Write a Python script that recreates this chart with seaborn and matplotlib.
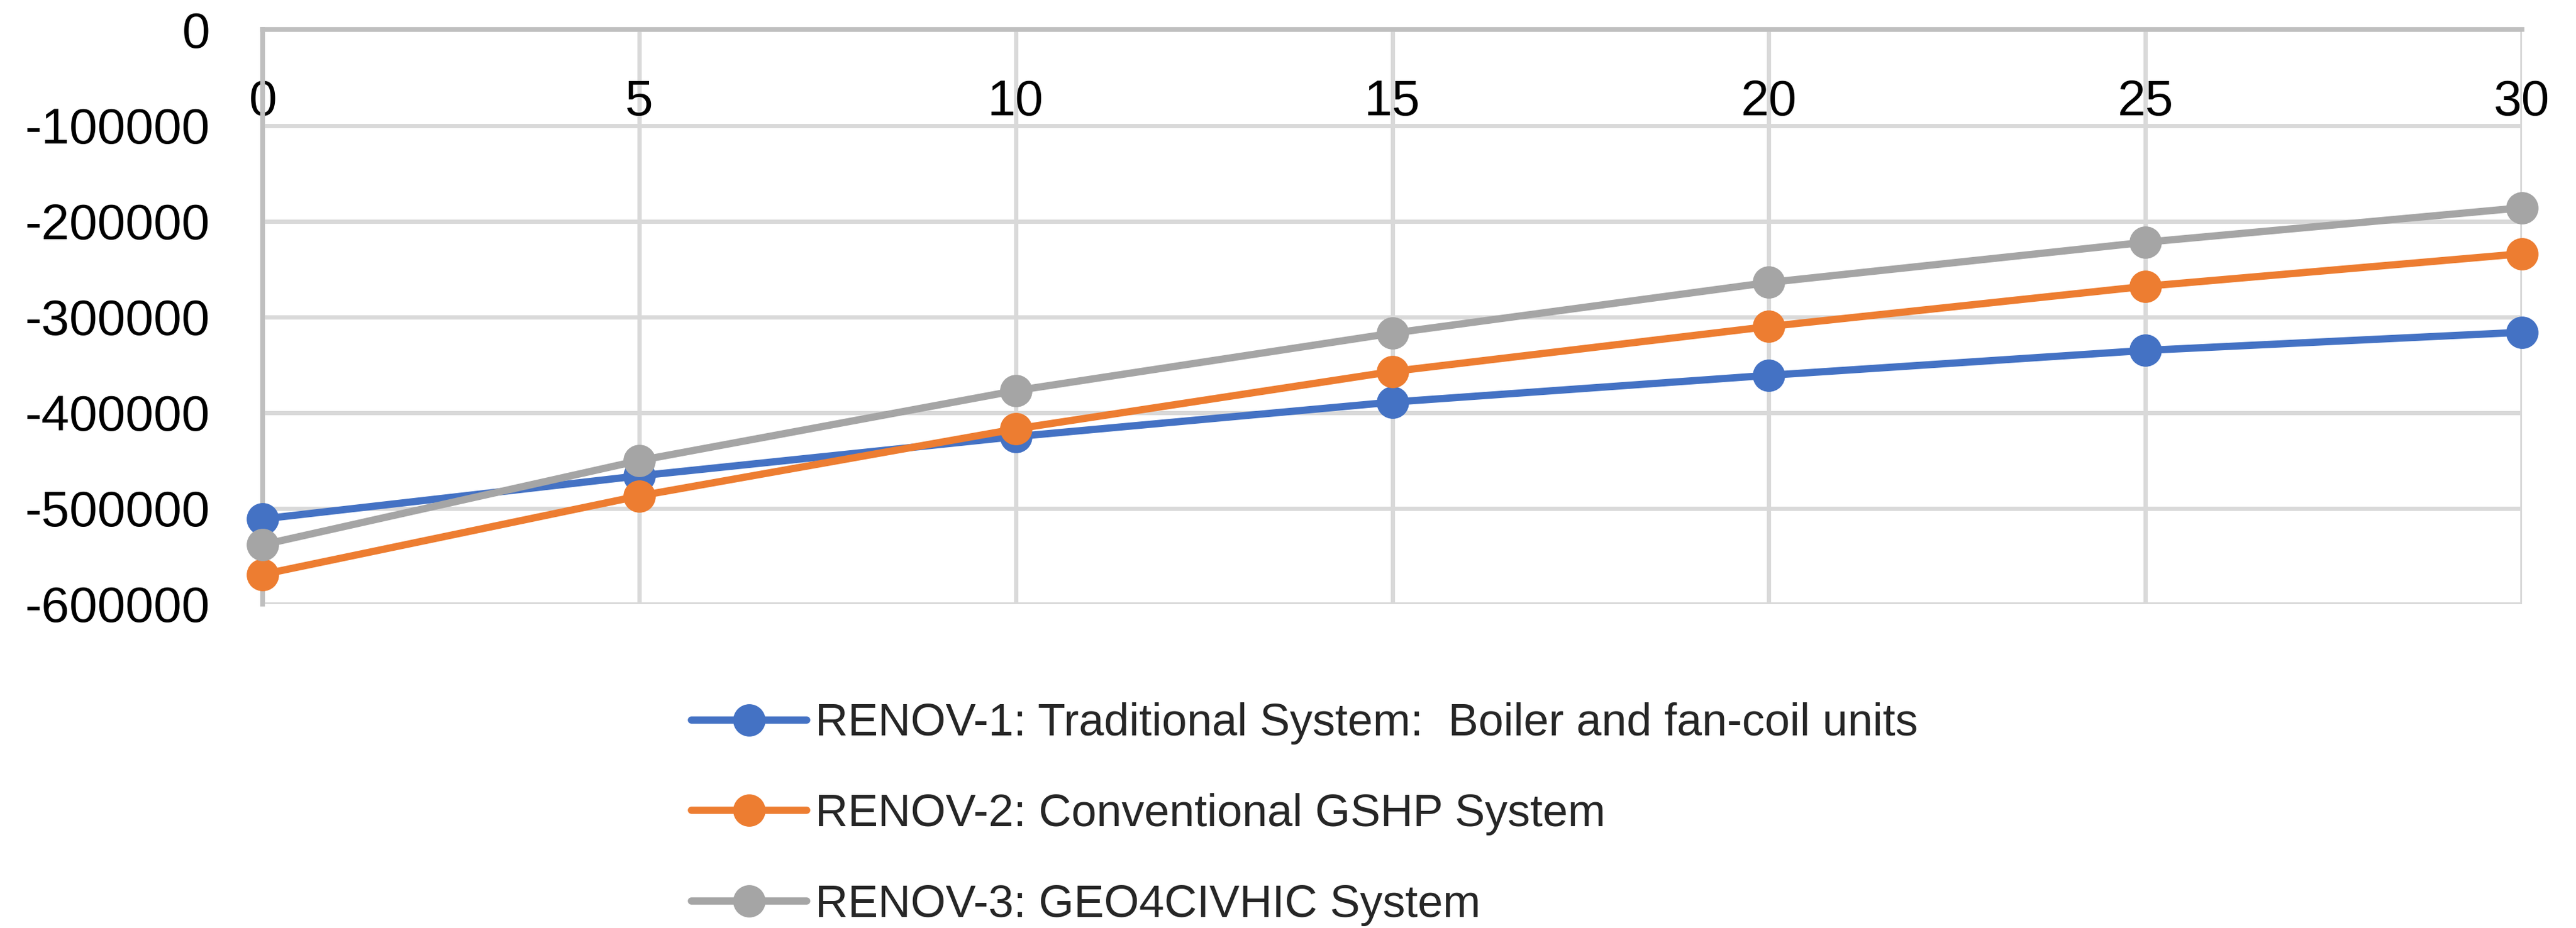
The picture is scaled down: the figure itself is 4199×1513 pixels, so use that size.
import matplotlib
matplotlib.use("Agg")
import matplotlib.pyplot as plt
import seaborn as sns
import pandas as pd

years = [0, 5, 10, 15, 20, 25, 30]
renov1 = [-511000, -466000, -425000, -389000, -361000, -335000, -316000]
renov2 = [-569000, -487000, -417000, -357000, -310000, -268000, -234000]
renov3 = [-538000, -450000, -377000, -317000, -264000, -222000, -186000]
series_names = [
    "RENOV-1: Traditional System:  Boiler and fan-coil units",
    "RENOV-2: Conventional GSHP System",
    "RENOV-3: GEO4CIVHIC System",
]
colors = ["#4472C4", "#ED7D31", "#A5A5A5"]
y_ticks = [0, -100000, -200000, -300000, -400000, -500000, -600000]

df = pd.concat([
    pd.DataFrame({"year": years, "value": vals, "system": name})
    for name, vals in zip(series_names, [renov1, renov2, renov3])
])

sns.set_theme(style="white")
plt.rcParams["font.family"] = ["Liberation Sans", "DejaVu Sans"]

DPI = 100
MARKER = 38
LINE_W = 8.5

fig = plt.figure(figsize=(4199 / DPI, 1513 / DPI), dpi=DPI)
ax = fig.add_axes([0.102, 0.349, 0.877, 0.619])

sns.lineplot(
    data=df, x="year", y="value", hue="system", hue_order=series_names,
    palette=colors, marker="o", markersize=MARKER, markeredgewidth=0,
    linewidth=LINE_W, ax=ax, zorder=3,
)
for line in ax.lines:
    line.set_markersize(MARKER)
    line.set_linewidth(LINE_W)
    line.set_markeredgewidth(0)
    line.set_clip_on(False)

ax.set_xlim(0, 30)
ax.set_ylim(-600000, 0)
ax.set_xticks(years)
ax.set_xticklabels([str(y) for y in years])
ax.set_yticks(y_ticks)
ax.set_yticklabels([str(v) for v in y_ticks])
ax.set_xlabel("")
ax.set_ylabel("")

ax.grid(True, color="#D9D9D9", linewidth=5, zorder=0)
ax.set_axisbelow(True)
for side in ["bottom", "right"]:
    ax.spines[side].set_visible(False)
for side in ["top", "left"]:
    ax.spines[side].set_color("#BFBFBF")
    ax.spines[side].set_linewidth(5.5)

# category labels sit just under the zero line
ax.xaxis.tick_top()
ax.tick_params(axis="x", length=0, pad=-113, labelsize=59, colors="black")
ax.tick_params(axis="y", length=0, pad=62, labelsize=59, colors="black")

handles, labels = ax.get_legend_handles_labels()
for h in handles:
    h.set_markersize(MARKER)
    h.set_linewidth(LINE_W)
    h.set_markeredgewidth(0)
ax.get_legend().remove()
fig.legend(
    handles, labels, loc="center left", bbox_to_anchor=(0.2596, 0.1225),
    frameon=False, fontsize=53, borderpad=0, handlelength=2.55,
    handletextpad=0.2, labelspacing=1.07,
)

fig.savefig("out.png", dpi=DPI, facecolor="white")
